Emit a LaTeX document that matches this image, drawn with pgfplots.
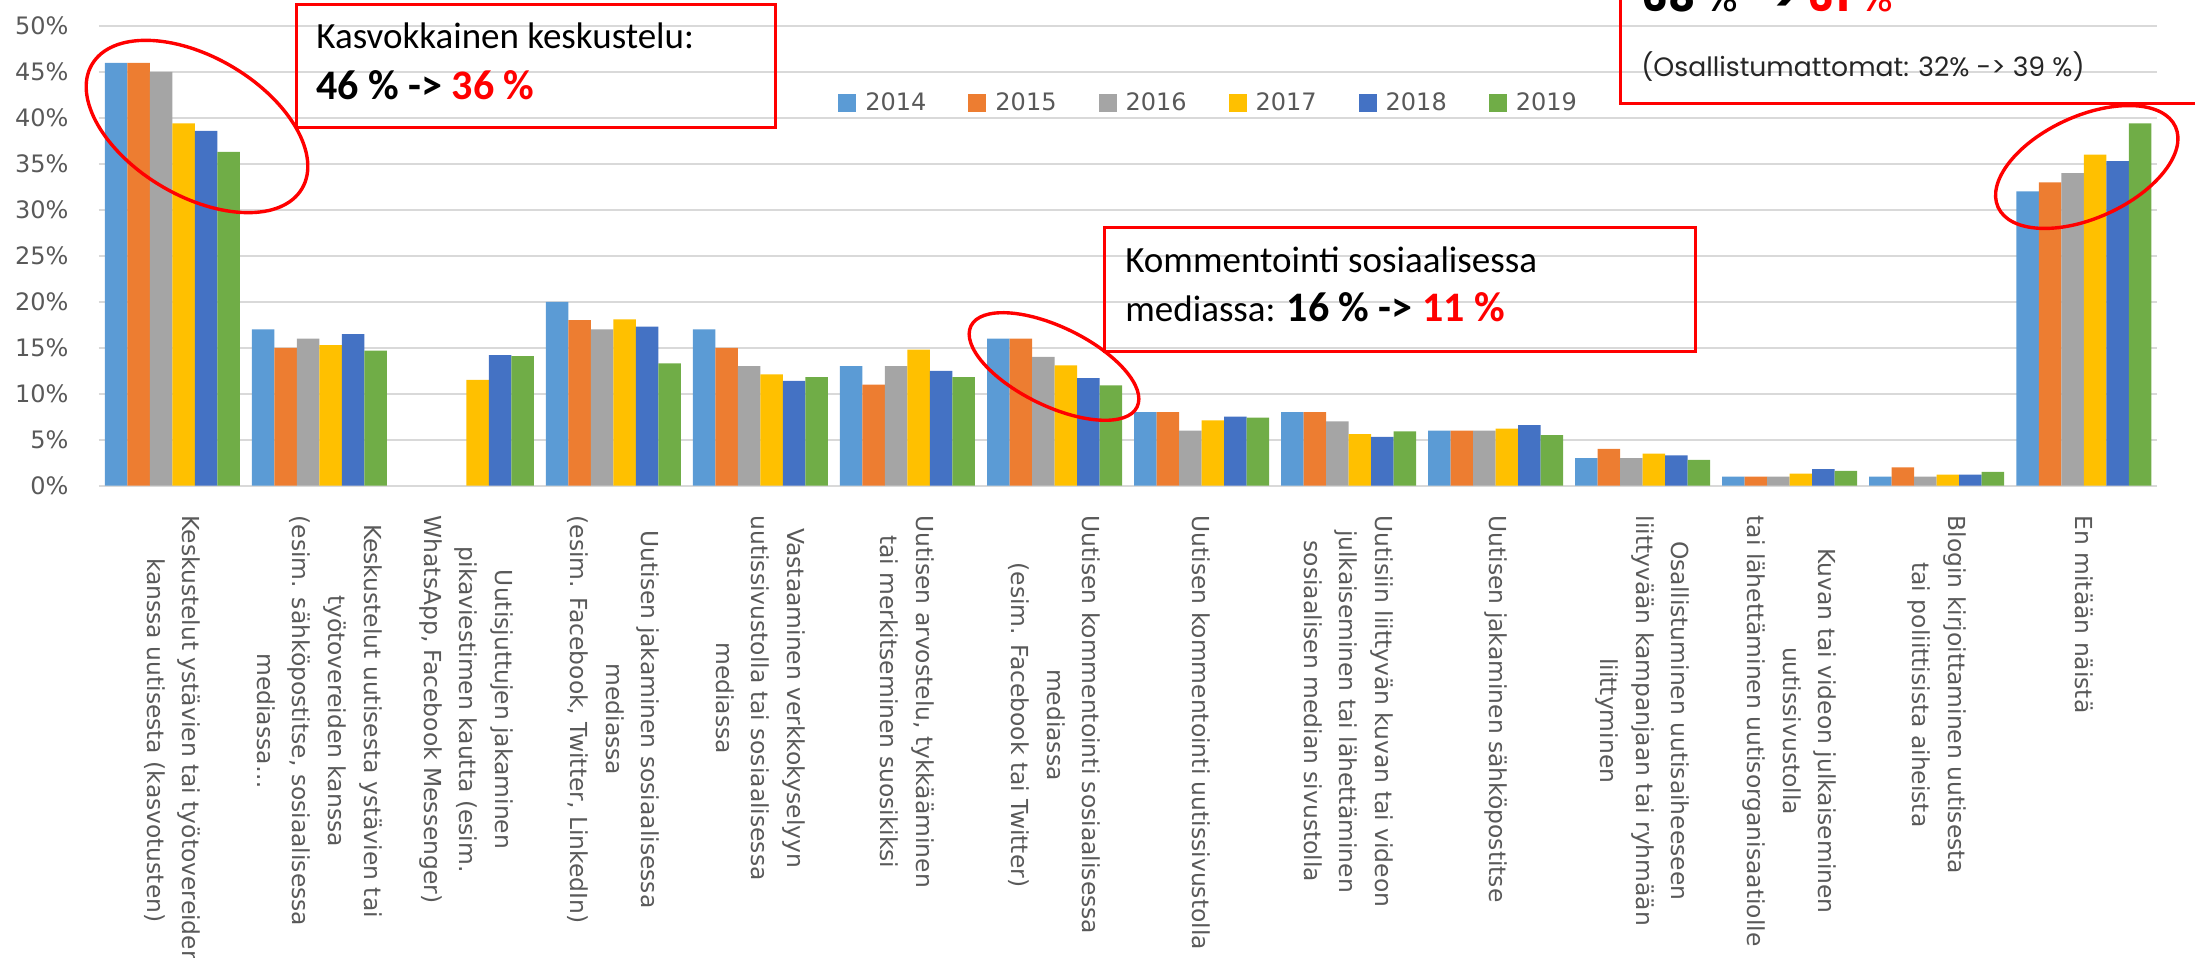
\documentclass[border=0pt]{standalone}
\usepackage{fontspec}
\usepackage{pgfplots}
\pgfplotsset{compat=1.18}
\usepackage{pgfplotstable}

\newfontfamily\axfont{DejaVu Sans}
\newfontfamily\calfont{Carlito}
\newfontfamily\gothfont{Poppins}

\definecolor{c14}{HTML}{5B9BD5}
\definecolor{c15}{HTML}{ED7D31}
\definecolor{c16}{HTML}{A5A5A5}
\definecolor{c17}{HTML}{FFC000}
\definecolor{c18}{HTML}{4472C4}
\definecolor{c19}{HTML}{70AD47}
\definecolor{txtgray}{HTML}{595959}
\definecolor{gridgray}{HTML}{D9D9D9}
\definecolor{boxred}{HTML}{FF0000}
\definecolor{darktxt}{HTML}{262626}

% share of respondents (%), one row per activity, one column per year
\pgfplotstableread{
idx y14 y15 y16 y17 y18 y19
0  46  46  45  39.4 38.6 36.3
1  17  15  16  15.3 16.5 14.7
2  nan nan nan 11.5 14.2 14.1
3  20  18  17  18.1 17.3 13.3
4  17  15  13  12.1 11.4 11.8
5  13  11  13  14.8 12.5 11.8
6  16  16  14  13.1 11.7 10.9
7  8   8   6   7.1  7.5  7.4
8  8   8   7   5.6  5.3  5.9
9  6   6   6   6.2  6.6  5.5
10 3   4   3   3.5  3.3  2.8
11 1   1   1   1.3  1.8  1.6
12 1   2   1   1.2  1.2  1.5
13 32  33  34  36   35.3 39.4
}\datatable

\pgfplotsset{sqlegend/.style={legend image code/.code={\fill[##1] (0pt,-4.5pt) rectangle (9pt,4.5pt);}}}

\begin{document}
\begin{tikzpicture}
\begin{axis}[
  at={(49.4pt,236.15pt)}, anchor=south west,
  scale only axis, width=1029.25pt, height=229.85pt,
  xmin=-0.5, xmax=13.5, ymin=0, ymax=50,
  ybar=0pt, bar width=11.25pt,
  axis line style={draw=none},
  tick style={draw=none},
  ymajorgrids, grid style={gridgray, line width=1.1pt},
  ytick={0,5,...,50},
  yticklabel={\pgfmathprintnumber{\tick}\%},
  /pgf/number format/assume math mode=true,
  y tick label style={font=\axfont\fontsize{12}{14}\selectfont, text=txtgray, inner sep=0pt, xshift=-15pt},
  xtick={0,...,13},
  xticklabels={
    {Keskustelut ystävien tai työtovereiden\\kanssa uutisesta (kasvotusten)},
    {Keskustelut uutisesta ystävien tai\\työtovereiden kanssa\\(esim. sähköpostitse, sosiaalisessa\\mediassa…},
    {Uutisjuttujen jakaminen\\pikaviestimen kautta (esim.\\WhatsApp, Facebook Messenger)},
    {Uutisen jakaminen sosiaalisessa\\mediassa\\(esim. Facebook, Twitter, LinkedIn)},
    {Vastaaminen verkkokyselyyn\\uutissivustolla tai sosiaalisessa\\mediassa},
    {Uutisen arvostelu, tykkääminen\\tai merkitseminen suosikiksi},
    {Uutisen kommentointi sosiaalisessa\\mediassa\\(esim. Facebook tai Twitter)},
    {Uutisen kommentointi uutissivustolla},
    {Uutisiin liittyvän kuvan tai videon\\julkaiseminen tai lähettäminen\\sosiaalisen median sivustolla},
    {Uutisen jakaminen sähköpostitse},
    {Osallistuminen uutisaiheeseen\\liittyvään kampanjaan tai ryhmään\\liittyminen},
    {Kuvan tai videon julkaiseminen\\uutissivustolla\\tai lähettäminen uutisorganisaatiolle},
    {Blogin kirjoittaminen uutisesta\\tai poliittisista aiheista},
    {En mitään näistä}},
  x tick label style={font=\axfont\fontsize{11.7}{17.8}\selectfont, text=txtgray,
    align=center, yshift=-10.5pt, rotate=-90, anchor=west, inner sep=0pt},
  legend columns=6,
  legend style={draw=none, fill=none, inner sep=0pt,
    at={(0.3591,0.8325)}, anchor=west,
    nodes={inner sep=0pt, text=txtgray, font=\axfont\fontsize{12}{14}\selectfont},
    /tikz/every odd column/.append style={column sep=4.5pt},
    /tikz/every even column/.append style={column sep=21pt}},
]
\addplot[fill=c14, draw=none, sqlegend] table[x=idx, y=y14] {\datatable};
\addplot[fill=c15, draw=none, sqlegend] table[x=idx, y=y15] {\datatable};
\addplot[fill=c16, draw=none, sqlegend] table[x=idx, y=y16] {\datatable};
\addplot[fill=c17, draw=none, sqlegend] table[x=idx, y=y17] {\datatable};
\addplot[fill=c18, draw=none, sqlegend] table[x=idx, y=y18] {\datatable};
\addplot[fill=c19, draw=none, sqlegend] table[x=idx, y=y19] {\datatable};
\legend{2014,2015,2016,2017,2018,2019}
\end{axis}

% annotations, in pixel units of the reference (origin top left)
\begin{scope}[shift={(0pt,479pt)}, x=0.5pt, y=-0.5pt]
  \draw[boxred, line width=1.5pt] (296,5) rectangle (775.5,127.7);
  \node[anchor=base west, inner sep=0pt, font=\calfont\fontsize{18.5}{20}\selectfont] at (316,49) {Kasvokkainen keskustelu:};
  \node[anchor=base west, inner sep=0pt, font=\calfont\bfseries\fontsize{21}{24}\selectfont] at (316,99.5) {46 \% -> \textcolor{boxred}{36 \%}};
  \draw[boxred, line width=1.7pt, shift={(197,126.5)}, rotate=-30.6] (0,0) ellipse [x radius=61pt, y radius=34.7pt];

  \draw[boxred, line width=1.5pt] (1104.6,227.7) rectangle (1695,351.7);
  \node[anchor=base west, inner sep=0pt, font=\calfont\fontsize{18.5}{20}\selectfont] at (1125,273) {Kommentointi sosiaalisessa};
  \node[anchor=base west, inner sep=0pt, font=\calfont\fontsize{18.5}{20}\selectfont] at (1125,322) {mediassa: {\bfseries\fontsize{21}{24}\selectfont 16 \% -> \textcolor{boxred}{11 \%}}};
  \draw[boxred, line width=1.7pt, shift={(1054,366.5)}, rotate=-26] (0,0) ellipse [x radius=46.2pt, y radius=19.7pt];

  \draw[boxred, line width=1.5pt] (1620.6,-80) rectangle (2300,103.3);
  \node[anchor=base west, inner sep=0pt, font=\gothfont\fontsize{21}{24}\selectfont] at (1641,12) {\textbf{68} \% \textbf{->} \textcolor{boxred}{\textbf{61} \%}};
  \node[anchor=base west, inner sep=0pt, text=darktxt, font=\gothfont\fontsize{13.3}{15}\selectfont] at (1641,77) {(Osallistumattomat: 32\% -> 39 \%)};
  \draw[boxred, line width=1.7pt, shift={(2086.75,167)}, rotate=24.4] (0,0) ellipse [x radius=48.7pt, y radius=25.5pt];

  \pgfresetboundingbox
  \path (0,0) rectangle (2195,958);
\end{scope}
\end{tikzpicture}
\end{document}
